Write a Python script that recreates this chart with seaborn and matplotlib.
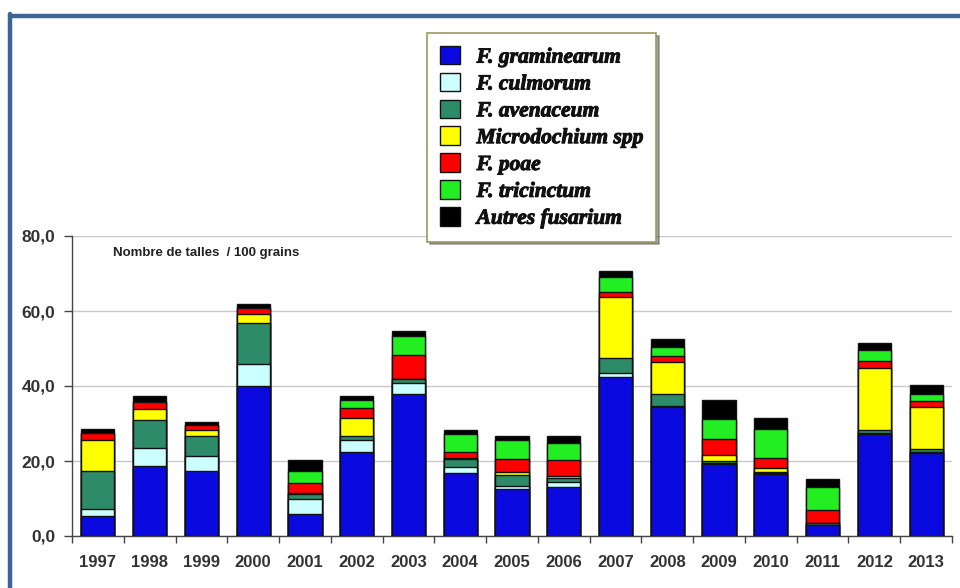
import matplotlib.pyplot as plt
import matplotlib.patheffects as pe
import numpy as np
import pandas as pd
import seaborn as sns
from matplotlib.lines import Line2D
from matplotlib.patches import Patch


YEARS = ["1997", "1998", "1999", "2000", "2001", "2002", "2003", "2004", "2005",
         "2006", "2007", "2008", "2009", "2010", "2011", "2012", "2013"]

GRAMINEARUM = [5.3, 18.7, 17.4, 40.1, 5.8, 22.5, 38.0, 16.8, 12.5, 13.2, 42.4, 34.5, 19.2, 16.5, 2.9, 27.2, 22.2]
CULMORUM = [1.8, 4.7, 3.9, 5.9, 4.2, 3.0, 2.9, 1.7, 0.9, 1.1, 1.1, 0.2, 0.2, 0.2, 0.1, 0.2, 0.2]
AVENACEUM = [10.3, 7.5, 5.4, 10.7, 1.2, 1.3, 0.9, 2.0, 2.9, 1.2, 4.0, 3.3, 0.5, 0.5, 0.5, 1.0, 0.7]
MICRODOCHIUM = [8.2, 3.0, 1.6, 2.4, 0.4, 4.7, 0.2, 0.3, 0.7, 0.6, 16.3, 8.4, 1.6, 0.9, 0.1, 16.4, 11.4]
POAE = [1.8, 1.9, 1.3, 1.8, 2.6, 2.6, 6.2, 1.7, 3.5, 4.2, 1.2, 1.5, 4.5, 2.8, 3.4, 1.8, 1.5]
TRICINCTUM = [0.0, 0.0, 0.0, 0.0, 3.2, 2.2, 5.2, 4.7, 5.2, 4.6, 4.1, 2.5, 5.2, 7.7, 6.2, 3.0, 1.9]
AUTRES = [1.1, 1.5, 0.9, 1.1, 2.9, 1.0, 1.3, 1.2, 1.1, 1.9, 1.7, 2.1, 5.1, 2.9, 2.0, 1.8, 2.5]

SPECIES = [
    ("F. graminearum", GRAMINEARUM, "#0a0ae0"),
    ("F. culmorum", CULMORUM, "#ccffff"),
    ("F. avenaceum", AVENACEUM, "#2e8b6a"),
    ("Microdochium spp", MICRODOCHIUM, "#ffff00"),
    ("F. poae", POAE, "#ff0000"),
    ("F. tricinctum", TRICINCTUM, "#22ee22"),
    ("Autres fusarium", AUTRES, "#000000"),
]

Y_TICKS = [0, 20, 40, 60, 80]
Y_TICK_LABELS = ["0,0", "20,0", "40,0", "60,0", "80,0"]


def main():
    sns.set_theme(style="white")
    plt.rcParams["font.family"] = ["Liberation Sans", "DejaVu Sans"]

    df = pd.DataFrame({"year": YEARS})
    for name, vals, _ in SPECIES:
        df[name] = vals
    names = [s[0] for s in SPECIES]
    cum = df[names].cumsum(axis=1)
    cum["year"] = df["year"]

    fig = plt.figure(figsize=(9.6, 5.88), dpi=100)
    ax = fig.add_axes([72 / 960, 1 - 536 / 588, (952 - 72) / 960, 300 / 588])

    # stacked bars: draw cumulative totals from the top layer down
    for name, _, color in reversed(SPECIES):
        sns.barplot(data=cum, x="year", y=name, color=color, saturation=1,
                    width=0.64, edgecolor="#111111", linewidth=1.0, ax=ax,
                    errorbar=None, zorder=3)

    ax.set_ylim(0, 80)
    ax.set_xlim(-0.5, len(YEARS) - 0.5)
    ax.set_yticks(Y_TICKS)
    ax.set_yticklabels(Y_TICK_LABELS)
    ax.set_xlabel("")
    ax.set_ylabel("")
    ax.yaxis.grid(True, color="#c8c8c8", linewidth=1.0, zorder=0)
    ax.set_axisbelow(True)

    for s in ["top", "right"]:
        ax.spines[s].set_visible(False)
    for s in ["left", "bottom"]:
        ax.spines[s].set_color("#444444")
        ax.spines[s].set_linewidth(1.0)

    ax.tick_params(axis="y", left=True, length=6, width=1, color="#444444",
                   labelsize=12.5, labelcolor="#333333", pad=6)
    ax.tick_params(axis="x", which="major", bottom=False, labelsize=12,
                   labelcolor="#333333", pad=8)
    ax.set_xticks(np.arange(-0.5, len(YEARS)), minor=True)
    ax.tick_params(axis="x", which="minor", bottom=True, length=5, width=1, color="#444444")
    for lab in ax.get_xticklabels() + ax.get_yticklabels():
        lab.set_fontweight("bold")

    ax.text(113 / 960, 1 - 253 / 588, "Nombre de talles  / 100 grains",
            transform=fig.transFigure, fontsize=9.5, fontweight="bold",
            color="#222222", va="center", ha="left")

    handles = [Patch(facecolor=c, edgecolor="#111111", linewidth=1.0) for _, _, c in SPECIES]
    leg = fig.legend(handles, names, loc="upper left",
                     bbox_to_anchor=(427 / 960, 1 - 33 / 588),
                     prop={"family": ["Liberation Serif", "DejaVu Serif"], "weight": "bold",
                           "style": "italic", "size": 15.5},
                     frameon=True, fancybox=False, shadow=True,
                     handlelength=0.95, handleheight=0.95, handletextpad=0.75,
                     labelspacing=0.24, borderpad=0.6, borderaxespad=0)
    leg.get_frame().set_edgecolor("#9a9a60")
    leg.get_frame().set_linewidth(1.2)
    for t in leg.get_texts():
        t.set_color("#111111")
        t.set_path_effects([pe.withStroke(linewidth=0.7, foreground="#111111")])

    # blue frame along top and left edge
    frame_color = "#3d6496"
    fig.add_artist(Line2D([10 / 960, 1], [1 - 16 / 588, 1 - 16 / 588],
                          transform=fig.transFigure, color=frame_color, linewidth=3.2))
    fig.add_artist(Line2D([10 / 960, 10 / 960], [0, 1 - 14 / 588],
                          transform=fig.transFigure, color=frame_color, linewidth=3.2))

    fig.savefig("out.png", dpi=100)
    plt.close(fig)


if __name__ == "__main__":
    main()
